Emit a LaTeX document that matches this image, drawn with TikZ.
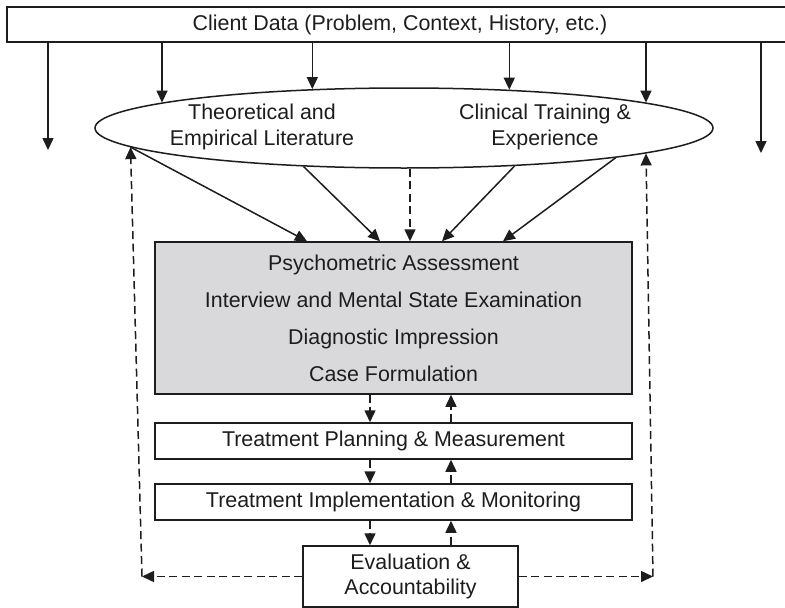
\documentclass[tikz,border=0pt]{standalone}
\usepackage{fontspec}
\setmainfont{Liberation Sans}
\usetikzlibrary{arrows.meta,shapes.geometric}
\definecolor{inkc}{RGB}{30,28,30}
\definecolor{boxgray}{RGB}{217,217,219}
\begin{document}
\begin{tikzpicture}[x=1pt,y=-1pt,
  every node/.style={font=\fontsize{21.4}{25.5}\selectfont, text=inkc},
  line/.style={draw=inkc, line width=1.5pt},
  arr/.style={line, -{Triangle[length=12pt,width=11pt]}},
  darr/.style={arr, dash pattern=on 8pt off 4.5pt},
  box/.style={line, rectangle, inner sep=0pt, align=center},
]
\useasboundingbox (0,0) rectangle (785,608);
\clip (0,0) rectangle (785,608);

% --- nodes ---
\node[box, minimum width=786pt, minimum height=35pt] (data) at (400,24.5)
  {Client Data (Problem, Context, History, etc.)};
\node[line, ellipse, minimum width=618pt, minimum height=80pt, inner sep=0pt] (lit) at (404,128) {};
\node[align=center] (theo) at (262,127) {Theoretical and\\Empirical Literature};
\node[align=center] (clin) at (545,127) {Clinical Training \&\\Experience};

\node[box, fill=boxgray, minimum width=477pt, minimum height=152pt,
      font=\fontsize{21.4}{37}\selectfont] (assess) at (393.5,318)
  {Psychometric Assessment\\Interview and Mental State Examination\\Diagnostic Impression\\Case Formulation};
\node[box, minimum width=477pt, minimum height=36pt] (plan) at (393.5,441)
  {Treatment Planning \& Measurement};
\node[box, minimum width=477pt, minimum height=36pt] (impl) at (393.5,502)
  {Treatment Implementation \& Monitoring};
\node[box, fill=white, minimum width=215pt, minimum height=61pt] (eval) at (410.5,576.5)
  {Evaluation \&\\Accountability};

% --- helper coordinates ---
\coordinate (dl) at (48,150);
\coordinate (dr) at (761,153);
\coordinate (cL) at (142,0);
\coordinate (cR) at (653,0);
\coordinate (xa) at (307,0);
\coordinate (xb) at (380,0);
\coordinate (xc) at (410,0);
\coordinate (xd) at (442,0);
\coordinate (xe) at (503,0);
\coordinate (dn) at (370,0);
\coordinate (up) at (451,0);

% --- client data feeds ---
\draw[arr] (dl |- data.south) -- (dl);
\draw[arr] (dr |- data.south) -- (dr);
\foreach \a in {174.13,157.94,20.31,6.24}
  \draw[arr] (lit.\a |- data.south) -- (lit.\a);

% --- knowledge base into assessment ---
\draw[arr] (lit.184.94) -- (xa |- assess.north);
\draw[arr] (lit.201.38) -- (xb |- assess.north);
\draw[darr] (xc |- lit.south) -- (xc |- assess.north);
\draw[arr] (lit.341.94) -- (xd |- assess.north);
\draw[arr] (lit.352.66) -- (xe |- assess.north);

% --- treatment chain ---
\draw[darr] (dn |- assess.south) -- (dn |- plan.north);
\draw[darr] (up |- plan.north) -- (up |- assess.south);
\draw[darr] (dn |- plan.south) -- (dn |- impl.north);
\draw[darr] (up |- impl.north) -- (up |- plan.south);
\draw[darr] (dn |- impl.south) -- (dn |- eval.north);
\draw[darr] (up |- eval.north) -- (up |- impl.south);

% --- feedback loops ---
\draw[darr] (eval.west) -- (cL |- eval.west);
\draw[darr] (cL |- eval.west) -- (lit.184.63);
\draw[darr] (eval.east) -- (cR |- eval.east);
\draw[darr] (cR |- eval.east) -- (lit.354.57);
\end{tikzpicture}
\end{document}
